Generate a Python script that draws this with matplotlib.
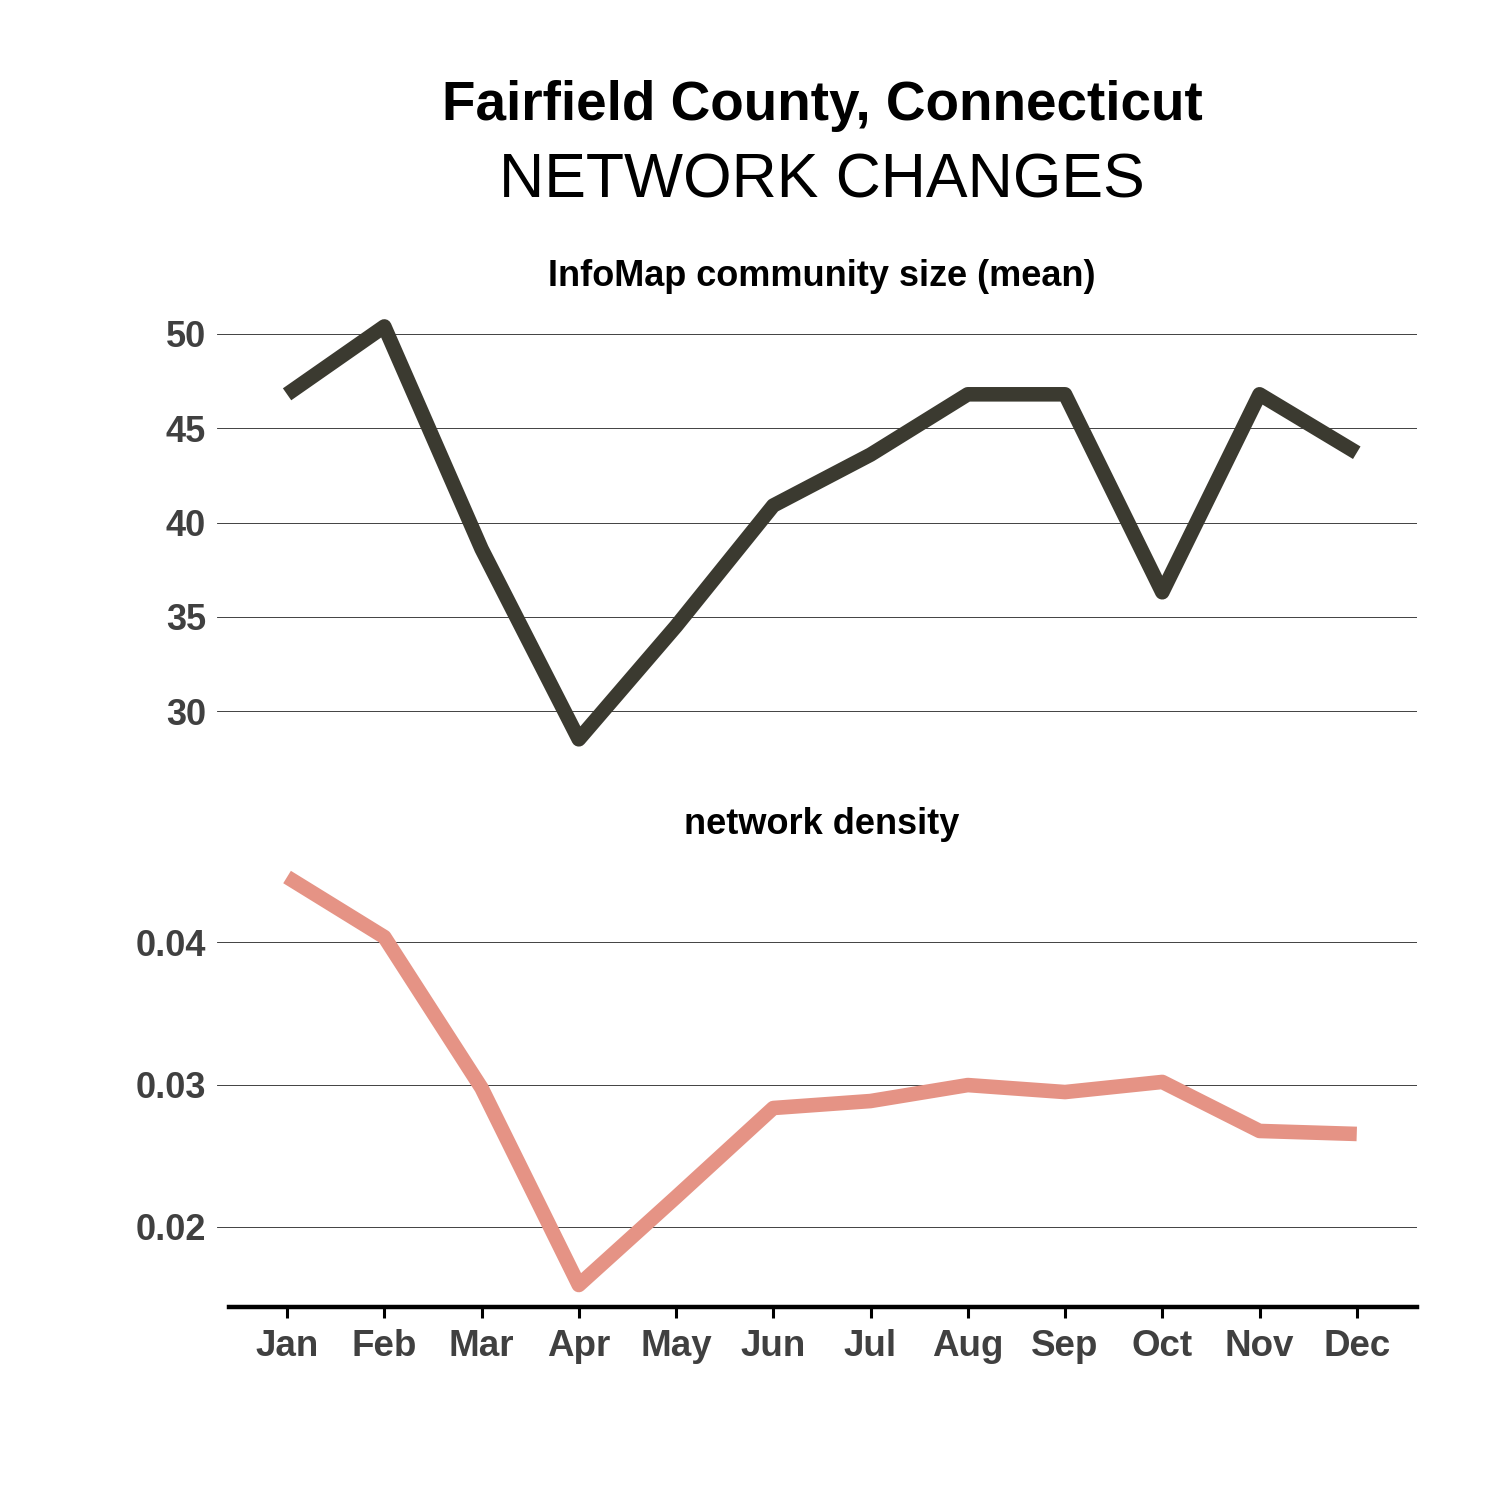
"""Fairfield County network changes: two stacked monthly line panels."""
import matplotlib
matplotlib.use('Agg')
import matplotlib.pyplot as plt

plt.rcParams['font.family'] = ['Liberation Sans', 'DejaVu Sans']

months = ['Jan', 'Feb', 'Mar', 'Apr', 'May', 'Jun',
          'Jul', 'Aug', 'Sep', 'Oct', 'Nov', 'Dec']
community_size = [46.8, 50.4, 38.6, 28.5, 34.5, 40.9,
                  43.6, 46.8, 46.8, 36.3, 46.8, 43.7]
density = [0.04456, 0.04035, 0.02975, 0.01593, 0.0221, 0.02835,
           0.02884, 0.02996, 0.02947, 0.03018, 0.02674, 0.02653]

size_ticks = [30, 35, 40, 45, 50]
density_ticks = [0.02, 0.03, 0.04]

DARK = '#3b3a30'
PINK = '#e59385'
TICK_COLOR = '#404040'

fig = plt.figure(figsize=(15, 15), dpi=100)

ax_top = fig.add_axes([0.1447, 0.4928, 0.8, 0.3034])
ax_bot = fig.add_axes([0.1447, 0.1288, 0.8, 0.3002])

x = list(range(len(months)))


def style_panel(ax, ticks, labels):
    """common look for both facets"""
    for side in ['top', 'right', 'left', 'bottom']:
        ax.spines[side].set_visible(False)
    ax.set_xlim(-0.72, 11.62)
    ax.set_yticks(ticks)
    ax.set_yticklabels(labels)
    ax.tick_params(axis='y', length=0, pad=8, labelsize=26,
                   labelcolor=TICK_COLOR)
    for lab in ax.get_yticklabels():
        lab.set_fontweight('bold')
    ax.grid(axis='y', color='#222222', linewidth=0.6)
    ax.set_axisbelow(True)


ax_top.plot(x, community_size, color=DARK, linewidth=10.5,
            solid_joinstyle='round', solid_capstyle='butt')
ax_top.set_ylim(27.36, 51.5)
style_panel(ax_top, size_ticks, [str(t) for t in size_ticks])
ax_top.set_xticks([])

ax_bot.plot(x, density, color=PINK, linewidth=10.5,
            solid_joinstyle='round', solid_capstyle='butt')
ax_bot.set_ylim(0.0144, 0.0460)
style_panel(ax_bot, density_ticks, ['{:.2f}'.format(t) for t in density_ticks])
ax_bot.spines['bottom'].set_visible(True)
ax_bot.spines['bottom'].set_linewidth(3.2)
ax_bot.spines['bottom'].set_color('black')
ax_bot.spines['bottom'].set_bounds(-0.6, 11.62)
ax_bot.set_xticks(x)
ax_bot.set_xticklabels(months, fontweight='bold')
ax_bot.tick_params(axis='x', length=8, width=2.2, color='black', pad=8,
                   labelsize=26.5, labelcolor=TICK_COLOR)

# titles
fig.text(822 / 1500, 1 - 106 / 1500, 'Fairfield County, Connecticut',
         ha='center', va='center', fontsize=39.5, fontweight='bold')
fig.text(822 / 1500, 1 - 181 / 1500, 'NETWORK CHANGES',
         ha='center', va='center', fontsize=45)
fig.text(822 / 1500, 1 - 276 / 1500, 'InfoMap community size (mean)',
         ha='center', va='center', fontsize=26, fontweight='bold')
fig.text(822 / 1500, 1 - 824 / 1500, 'network density',
         ha='center', va='center', fontsize=26, fontweight='bold')

fig.savefig('out.png', dpi=100, facecolor='white')
